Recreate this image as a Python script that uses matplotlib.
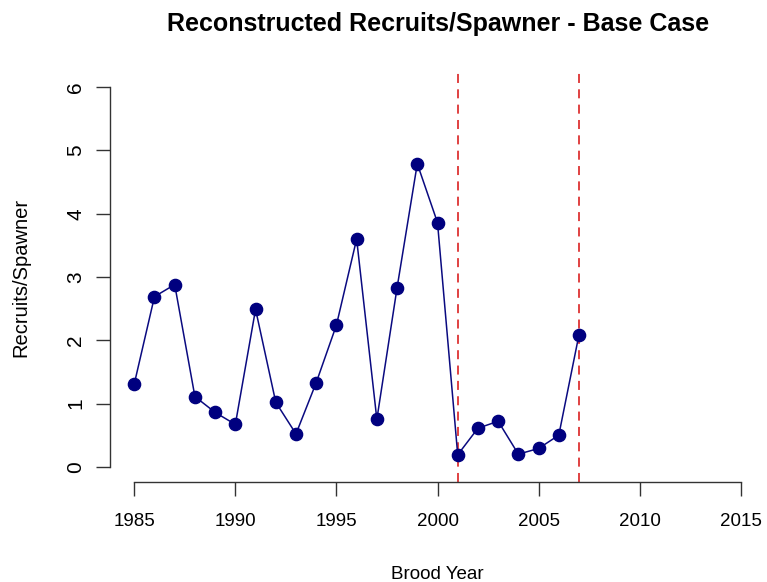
import matplotlib.pyplot as plt

plt.rcParams['font.family'] = ['Liberation Sans', 'DejaVu Sans']

## Data
years = [1985, 1986, 1987, 1988, 1989, 1990, 1991, 1992, 1993, 1994, 1995, 1996,
         1997, 1998, 1999, 2000, 2001, 2002, 2003, 2004, 2005, 2006, 2007]
rps = [1.31, 2.69, 2.88, 1.11, 0.86, 0.67, 2.49, 1.02, 0.52, 1.33, 2.24, 3.60,
       0.75, 2.83, 4.79, 3.86, 0.19, 0.61, 0.72, 0.20, 0.29, 0.50, 2.09]
ref_years = [2001, 2007]
xticks = [1985, 1990, 1995, 2000, 2005, 2010, 2015]
yticks = [0, 1, 2, 3, 4, 5, 6]

fig = plt.figure(figsize=(7.67, 5.82), dpi=100)
ax = fig.add_axes([110/767, 1 - 482/582, 655/767, 410/582])

ax.plot(years, rps, color='#0a0a80', lw=1.1, marker='o', ms=8.8,
        markerfacecolor='#00007f', markeredgecolor='#00007f', zorder=3)
for yr in ref_years:
    ax.axvline(yr, color='#dd3333', lw=1.3, ls=(0, (5, 3.5)), zorder=2)

ax.set_xlim(1983.8, 2016.2)
ax.set_ylim(-0.24, 6.24)
ax.set_xticks(xticks)
ax.set_yticks(yticks)
ax.set_yticklabels([str(t) for t in yticks], rotation=90, va='center')

for side in ['top', 'right']:
    ax.spines[side].set_visible(False)
ax.spines['left'].set_bounds(0, 6)
ax.spines['bottom'].set_bounds(1985, 2015)
for side in ['left', 'bottom']:
    ax.spines[side].set_color('#333333')
    ax.spines[side].set_linewidth(1.0)
ax.tick_params(direction='out', length=10, width=1.0, color='#333333')
ax.tick_params(axis='x', labelsize=13.5, pad=12)
ax.tick_params(axis='y', labelsize=15, pad=8)

ax.set_xlabel('Brood Year', fontsize=13.5, labelpad=26)
ax.set_ylabel('Recruits/Spawner', fontsize=14.5, labelpad=26)
fig.text(438 / 767, 1 - 24 / 582, 'Reconstructed Recruits/Spawner - Base Case',
         ha='center', va='center', fontsize=18, fontweight='bold')

fig.savefig('out.png', dpi=100)
